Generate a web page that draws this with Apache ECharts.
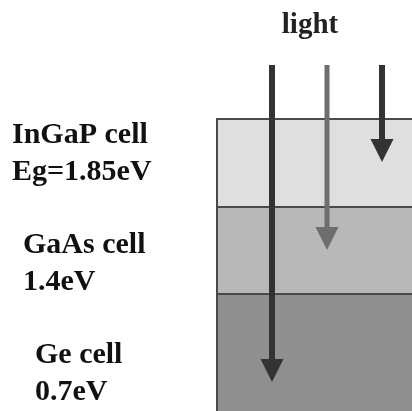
<!DOCTYPE html>
<html><head><meta charset="utf-8">
<script src="https://cdn.jsdelivr.net/npm/echarts@6/dist/echarts.min.js"></script>
<style>html,body{margin:0;padding:0;background:#fff}#c{width:412px;height:411px}</style>
</head><body><div id="c"></div>
<script>
// Layers of the triple-junction cell: [name, top depth, bottom depth]
const layerNames = ['InGaP cell', 'GaAs cell', 'Ge cell'];
const layerGaps = ['Eg=1.85eV', '1.4eV', '0.7eV'];
const layerTop = [119, 207, 294];
const layerBottom = [207, 294, 420];
const layerColors = ['#dfdfdf', '#b8b8b8', '#8f8f8f'];
// Light rays: x position, start depth, absorption depth
const rayX = [272, 327, 382];
const rayStart = [65, 65, 65];
const rayEnd = [382, 250, 162];
const rayColors = ['#333333', '#6e6e6e', '#333333'];
const cellLeft = 217, cellRight = 430;

const chart = echarts.init(document.getElementById('c'));
const font = '"Liberation Serif","Times New Roman",serif';
const layerData = layerNames.map((n, i) => [cellLeft, layerTop[i], cellRight, layerBottom[i], i]);
const rayData = rayX.map((x, i) => [x, rayStart[i], rayEnd[i], i]);

// text top positions (baseline - ascent)
const labelPos = [[12, 120], [23, 230], [35, 340]];
const graphics = [{type: 'text', x: 310, y: 11, style: {text: 'light', font: 'bold 29px ' + font, fill: '#222', align: 'center', verticalAlign: 'top'}}];
layerNames.forEach((n, i) => {
  graphics.push({type: 'text', x: labelPos[i][0], y: labelPos[i][1], style: {text: n, font: 'bold 30px ' + font, fill: '#111', align: 'left', verticalAlign: 'top'}});
  graphics.push({type: 'text', x: labelPos[i][0], y: labelPos[i][1] + 37, style: {text: layerGaps[i], font: 'bold 30px ' + font, fill: '#111', align: 'left', verticalAlign: 'top'}});
});

chart.setOption({
  animation: false,
  grid: {left: 0, right: 0, top: 0, bottom: 0},
  xAxis: {type: 'value', min: 0, max: 412, show: false},
  yAxis: {type: 'value', min: 0, max: 411, inverse: true, show: false},
  graphic: graphics,
  series: [{
    type: 'custom', coordinateSystem: 'cartesian2d', clip: true, data: layerData,
    renderItem: (params, api) => {
      const p0 = api.coord([api.value(0), api.value(1)]);
      const p1 = api.coord([api.value(2), api.value(3)]);
      return {type: 'rect', shape: {x: p0[0], y: p0[1], width: p1[0] - p0[0], height: p1[1] - p0[1]},
        style: {fill: layerColors[api.value(4)], stroke: '#4a4a4a', lineWidth: 2}};
    }
  }, {
    type: 'custom', coordinateSystem: 'cartesian2d', clip: false, data: rayData,
    renderItem: (params, api) => {
      const i = api.value(3);
      const a = api.coord([api.value(0), api.value(1)]);
      const b = api.coord([api.value(0), api.value(2)]);
      const hw = 11.5, hh = 23;
      const c = rayColors[i];
      return {type: 'group', children: [
        {type: 'line', shape: {x1: a[0], y1: a[1], x2: b[0], y2: b[1] - hh + 2}, style: {stroke: c, lineWidth: i === 1 ? 5 : 6}},
        {type: 'polygon', shape: {points: [[b[0] - hw, b[1] - hh], [b[0] + hw, b[1] - hh], [b[0], b[1]]]}, style: {fill: c}}
      ]};
    }
  }]
});
</script></body></html>
